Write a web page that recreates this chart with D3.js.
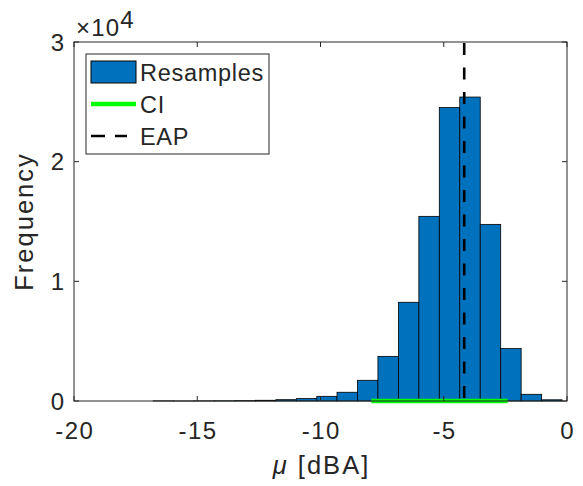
<!DOCTYPE html>
<html>
<head>
<meta charset="utf-8">
<script src="https://cdn.jsdelivr.net/npm/d3@7"></script>
<style>
  html, body { margin: 0; padding: 0; background: #fff; }
  text { font-family: "Liberation Sans", Arial, Helvetica, sans-serif; fill: #262626; }
</style>
</head>
<body>
<div id="chart"></div>
<script>
// ── Data ──────────────────────────────────────────────────────────────────────
const BIN_EDGES = [-16.79, -15.96, -15.13, -14.30, -13.47, -12.64, -11.81, -10.98,
                   -10.15, -9.33, -8.50, -7.67, -6.84, -6.01, -5.18, -4.35,
                   -3.52, -2.69, -1.86, -1.03, -0.20];
const COUNTS    = [10, 5, 10, 15, 30, 60, 110, 200,
                   390, 730, 1730, 3730, 8250, 15430, 24520, 25400,
                   14760, 4380, 560, 100];
const CI        = [-7.94, -2.41];
const EAP       = -4.17;
const X_TICKS   = [-20, -15, -10, -5, 0];
const Y_TICKS   = [0, 1, 2, 3];          // ×10^4
const LEGEND    = ["Resamples", "CI", "EAP"];

// ── Dimensions ────────────────────────────────────────────────────────────────
const W = 583, H = 486;
const margin = { top: 42, right: 16, bottom: 85, left: 74 };
const width  = W - margin.left - margin.right;
const height = H - margin.top  - margin.bottom;

const svg = d3.select("#chart").append("svg")
  .attr("width", W).attr("height", H);

const g = svg.append("g")
  .attr("transform", `translate(${margin.left},${margin.top})`);

// ── Scales ────────────────────────────────────────────────────────────────────
const x = d3.scaleLinear().domain([-20, 0]).range([0, width]);
const y = d3.scaleLinear().domain([0, 30000]).range([height, 0]);

// ── Bars ──────────────────────────────────────────────────────────────────────
const bins = COUNTS.map((c, i) => ({ x0: BIN_EDGES[i], x1: BIN_EDGES[i + 1], n: c }));
g.selectAll(".bar").data(bins).join("rect")
  .attr("class", "bar")
  .attr("x", d => x(d.x0))
  .attr("width", d => x(d.x1) - x(d.x0))
  .attr("y", d => y(d.n))
  .attr("height", d => y(0) - y(d.n))
  .attr("fill", "#0072BD")
  .attr("stroke", "#000").attr("stroke-width", 0.8);

// ── CI & EAP ──────────────────────────────────────────────────────────────────
g.append("line")
  .attr("x1", x(CI[0])).attr("x2", x(CI[1]))
  .attr("y1", y(0)).attr("y2", y(0))
  .attr("stroke", "#00ff00").attr("stroke-width", 4.5);

g.append("line")
  .attr("x1", x(EAP)).attr("x2", x(EAP))
  .attr("y1", y(30000) + 1).attr("y2", y(0))
  .attr("stroke", "#000").attr("stroke-width", 2.6)
  .attr("stroke-dasharray", "12,12.5");

// ── Axes (box with inward ticks) ──────────────────────────────────────────────
const AX = "#262626", TL = 5;
g.append("rect").attr("x", 0).attr("y", 0).attr("width", width).attr("height", height)
  .attr("fill", "none").attr("stroke", AX).attr("stroke-width", 1);

X_TICKS.forEach(t => {
  g.append("line").attr("x1", x(t)).attr("x2", x(t)).attr("y1", height).attr("y2", height - TL)
    .attr("stroke", AX);
  g.append("line").attr("x1", x(t)).attr("x2", x(t)).attr("y1", 0).attr("y2", TL)
    .attr("stroke", AX);
  g.append("text").attr("x", x(t) + 0.8).attr("y", height + 38)
    .attr("text-anchor", "middle").style("font-size", "24px").style("letter-spacing", "1.5px")
    .text(t);
});

Y_TICKS.forEach(t => {
  g.append("line").attr("x1", 0).attr("x2", TL).attr("y1", y(t * 1e4)).attr("y2", y(t * 1e4))
    .attr("stroke", AX);
  g.append("line").attr("x1", width).attr("x2", width - TL).attr("y1", y(t * 1e4)).attr("y2", y(t * 1e4))
    .attr("stroke", AX);
  g.append("text").attr("x", -10).attr("y", y(t * 1e4) + 8.6)
    .attr("text-anchor", "end").style("font-size", "24px")
    .text(t);
});

// exponent label
const expT = svg.append("text").attr("x", 76).attr("y", 36)
  .style("font-size", "24px").style("letter-spacing", "1.2px");
expT.append("tspan").text("×10");
expT.append("tspan").attr("dy", -8).text("4");

// axis titles
svg.append("text")
  .attr("transform", `translate(33,${margin.top + height / 2}) rotate(-90)`)
  .attr("text-anchor", "middle").style("font-size", "25.5px").style("letter-spacing", "2px")
  .text("Frequency");

const xl = svg.append("text")
  .attr("x", margin.left + width / 2 + 1).attr("y", 474)
  .attr("text-anchor", "middle").style("font-size", "25.5px").style("letter-spacing", "2px");
xl.append("tspan").style("font-style", "italic").text("μ");
xl.append("tspan").text(" [dBA]");

// ── Legend ────────────────────────────────────────────────────────────────────
const lg = svg.append("g").attr("transform", "translate(86,54)");
lg.append("rect").attr("width", 183).attr("height", 100)
  .attr("fill", "#fff").attr("stroke", "#262626").attr("stroke-width", 1);

LEGEND.forEach((label, i) => {
  const cy = 18 + i * 32;
  if (i === 0) {
    lg.append("rect").attr("x", 5).attr("y", cy - 11).attr("width", 45).attr("height", 22)
      .attr("fill", "#0072BD").attr("stroke", "#000").attr("stroke-width", 1);
  } else if (i === 1) {
    lg.append("line").attr("x1", 5).attr("x2", 50).attr("y1", cy).attr("y2", cy)
      .attr("stroke", "#00ff00").attr("stroke-width", 4.5);
  } else {
    lg.append("line").attr("x1", 5).attr("x2", 41).attr("y1", cy).attr("y2", cy)
      .attr("stroke", "#000").attr("stroke-width", 2.6).attr("stroke-dasharray", "14,10");
  }
  lg.append("text").attr("x", 54).attr("y", cy + 8.5)
    .style("font-size", "23.5px").style("letter-spacing", "0.7px").text(label);
});
</script>
</body>
</html>
